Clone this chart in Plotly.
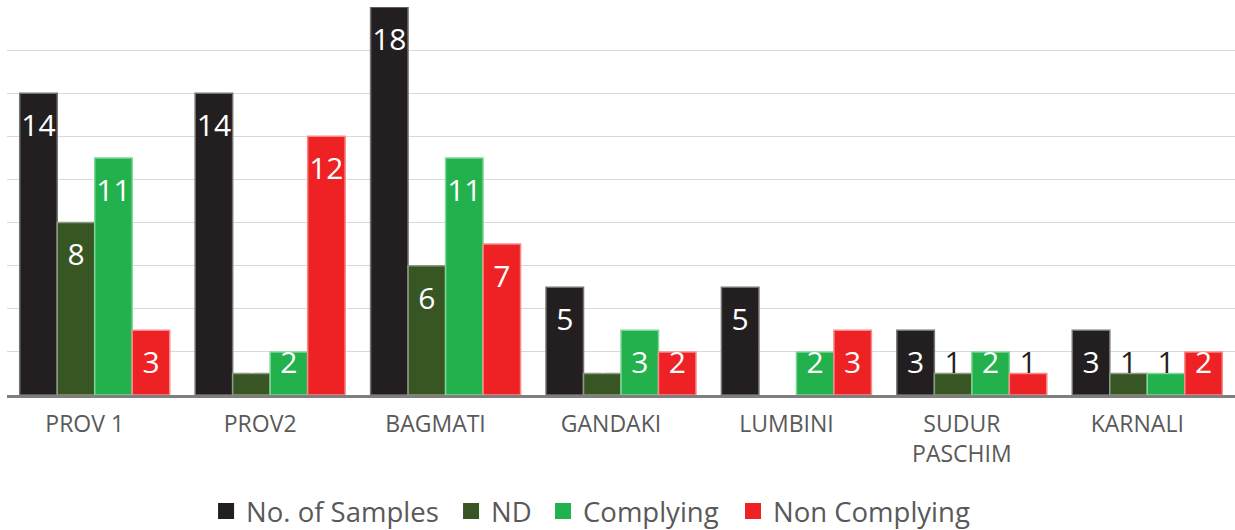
import numpy as np
import plotly.graph_objects as go

categories = ["PROV 1", "PROV2", "BAGMATI", "GANDAKI", "LUMBINI", "SUDUR<br>PASCHIM", "KARNALI"]
series_names = ["No. of Samples", "ND", "Complying", "Non Complying"]
no_of_samples = [14, 14, 18, 5, 5, 3, 3]
nd = [8, 1, 6, 1, 0, 1, 1]
complying = [11, 2, 11, 3, 2, 2, 1]
non_complying = [3, 12, 7, 2, 3, 1, 2]

# label colours (white inside bars; dark where Excel put it above a short bar)
W, D = "#ffffff", "#231f20"
label_colors = [
    [W, W, W, W, W, W, W],
    [W, W, W, W, W, D, D],
    [W, W, W, W, W, W, D],
    [W, W, W, W, W, D, W],
]

bar_colors = ["#231f20", "#375623", "#22b14c", "#ee2224"]
edge_colors = ["#737373", "#8c9a84", "#7fd69a", "#f58c8c"]
groups = ["g0", "g1", "g2", "g3"]
legend_ids = ["legend", "legend2", "legend3", "legend4"]
legend_x = [0.1621, 0.3616, 0.4365, 0.5912]

all_values = [no_of_samples, nd, complying, non_complying]
FONT = "Open Sans"

fig = go.Figure()
for i, vals in enumerate(all_values):
    fig.add_trace(go.Bar(
        x=categories, y=vals, name=series_names[i], offsetgroup=groups[i],
        marker=dict(color=bar_colors[i],
                    line=dict(color=edge_colors[i], width=[1.5 if v > 0 else 0 for v in vals])),
        showlegend=False, hoverinfo="x+y+name",
    ))
for i, vals in enumerate(all_values):
    v = np.array(vals)
    fig.add_trace(go.Scatter(
        x=categories, y=np.maximum(v, 3), mode="markers+text", offsetgroup=groups[i],
        text=[str(x) if x > 0 else "" for x in vals],
        textposition="bottom center",
        textfont=dict(family=FONT, size=30, color=label_colors[i]),
        marker=dict(size=31, opacity=0),
        showlegend=False, hoverinfo="skip", cliponaxis=False,
    ))
for i in range(4):
    fig.add_trace(go.Scatter(
        x=[None], y=[None], mode="markers", name=series_names[i], offsetgroup=groups[i],
        marker=dict(symbol="square", size=16, color=bar_colors[i]),
        showlegend=True, legend=legend_ids[i],
    ))

legend_style = dict(orientation="h", xanchor="left", y=-0.299, yanchor="middle",
                    font=dict(family=FONT, size=27.5, color="#595959"), itemwidth=30,
                    bgcolor="rgba(0,0,0,0)")

fig.update_layout(
    width=1235, height=530,
    margin=dict(l=7, r=0, t=7, b=135, autoexpand=False),
    plot_bgcolor="white", paper_bgcolor="white",
    barmode="group", bargap=0.145, bargroupgap=0,
    scattermode="group",
    font=dict(family=FONT, color="#595959"),
    showlegend=True,
    xaxis=dict(showline=True, linecolor="#7f7f7f", linewidth=3, ticks="",
               tickfont=dict(family=FONT, size=23, color="#595959"),
               ticklabelshift=-10, ticklabelstandoff=6, automargin=False),
    yaxis=dict(range=[0, 18], dtick=2, showticklabels=False, showgrid=True,
               gridcolor="#d9d9d9", gridwidth=1, zeroline=False, showline=False,
               automargin=False),
)
for i, lid in enumerate(legend_ids):
    fig.update_layout({lid: dict(legend_style, x=legend_x[i])})

fig.write_html("out.html", config={"displayModeBar": False},
               post_script="document.body.style.margin='0';document.body.style.overflow='hidden';")
